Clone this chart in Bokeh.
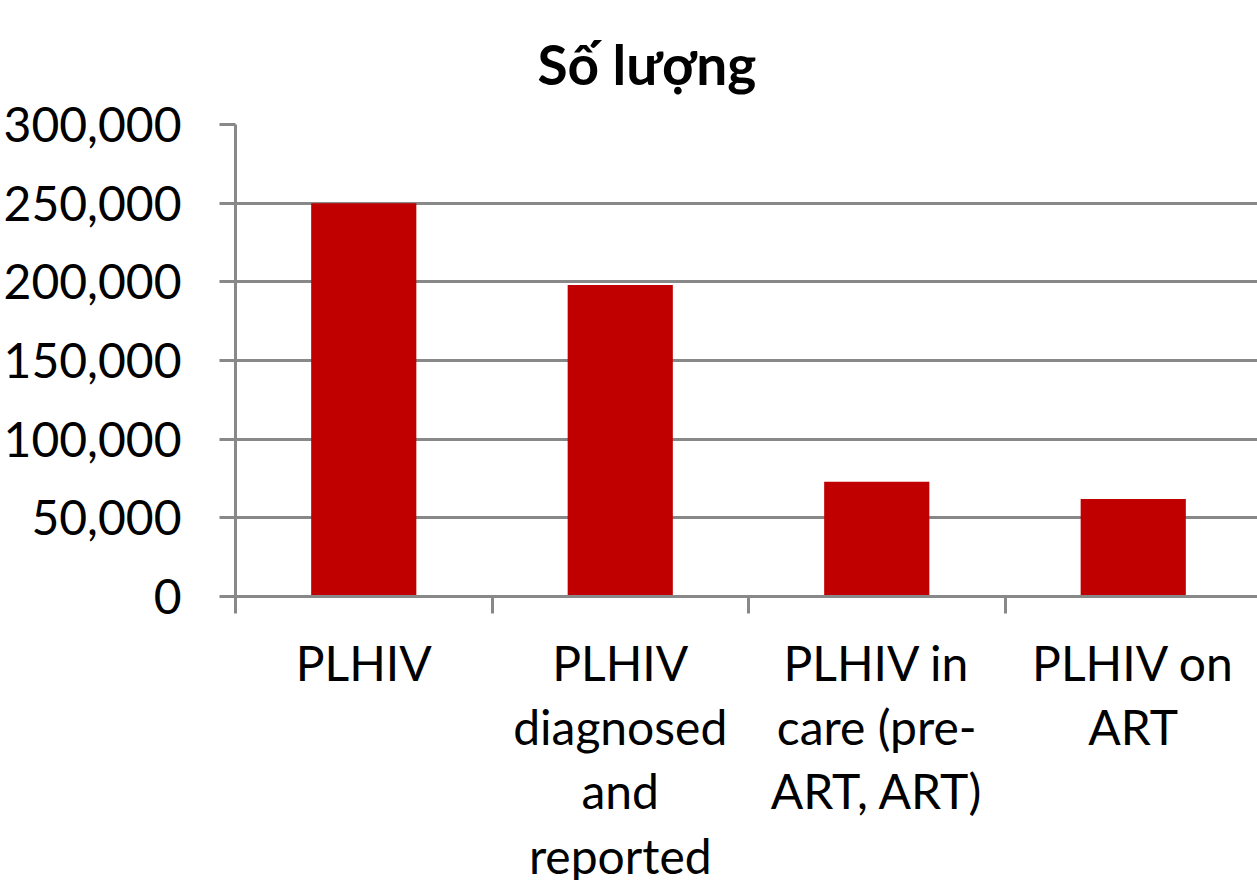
from bokeh.plotting import figure
from bokeh.models import (Range1d, LinearAxis, FixedTicker, NumeralTickFormatter,
                          Title, ColumnDataSource, SingleIntervalTicker)
from bokeh.embed import file_html
from bokeh.resources import INLINE

categories = ["PLHIV", "PLHIV diagnosed and reported", "PLHIV in care (pre-ART, ART)", "PLHIV on ART"]
wrapped_labels = ["PLHIV", "PLHIV\ndiagnosed\nand\nreported", "PLHIV in\ncare (pre-\nART, ART)", "PLHIV on\nART"]
values = [250000, 198000, 73000, 62000]
title_text = "Số lượng"

FONT = "Lato"
GRAY = "#888888"
RED = "#C00000"

n = len(categories)
centers = [i + 0.5 for i in range(n)]
bounds = list(range(n + 1))

p = figure(frame_width=1026, frame_height=472, x_range=Range1d(0, n), y_range=Range1d(0, 300000),
           output_backend="svg", toolbar_location=None, x_axis_location=None,
           min_border_left=235, min_border_right=0, min_border_top=122, min_border_bottom=0)
p.title = Title(text=title_text, text_font=FONT, text_font_size="55px", text_font_style="bold",
                align="left", offset=302, standoff=56, text_color="black")

src = ColumnDataSource(dict(x=centers, cat=categories, val=values))
p.vbar(x="x", top="val", width=0.41, source=src, fill_color=RED, line_color=None)

p.outline_line_color = None
p.xgrid.grid_line_color = None
p.ygrid.grid_line_color = GRAY
p.ygrid.grid_line_width = 3
p.ygrid.ticker = SingleIntervalTicker(interval=50000)

ya = p.yaxis[0]
ya.ticker = SingleIntervalTicker(interval=50000)
ya.formatter = NumeralTickFormatter(format="0,0")
ya.axis_line_color = GRAY
ya.axis_line_width = 3
ya.major_tick_line_color = GRAY
ya.major_tick_line_width = 3
ya.major_tick_out = 16
ya.major_tick_in = 0
ya.minor_tick_line_color = None
ya.major_label_standoff = 38
ya.major_label_text_font = FONT
ya.major_label_text_font_size = "48px"
ya.major_label_text_color = "black"

# category axis: labels at centres, boundary ticks as minor ticks
xa = LinearAxis(ticker=FixedTicker(ticks=centers, minor_ticks=bounds))
xa.axis_line_color = GRAY
xa.axis_line_width = 3
xa.major_tick_line_color = None
xa.major_tick_out = 17
xa.major_tick_in = 0
xa.minor_tick_line_color = GRAY
xa.minor_tick_line_width = 3
xa.minor_tick_out = 17
xa.minor_tick_in = 0
xa.major_label_standoff = 20
xa.major_label_text_font = FONT
xa.major_label_text_font_size = "48px"
xa.major_label_text_color = "black"
xa.major_label_text_line_height = 1.13
xa.major_label_overrides = {c: lab for c, lab in zip(centers, wrapped_labels)}
p.add_layout(xa, "below")

open("out.html", "w").write(file_html(p, INLINE))
